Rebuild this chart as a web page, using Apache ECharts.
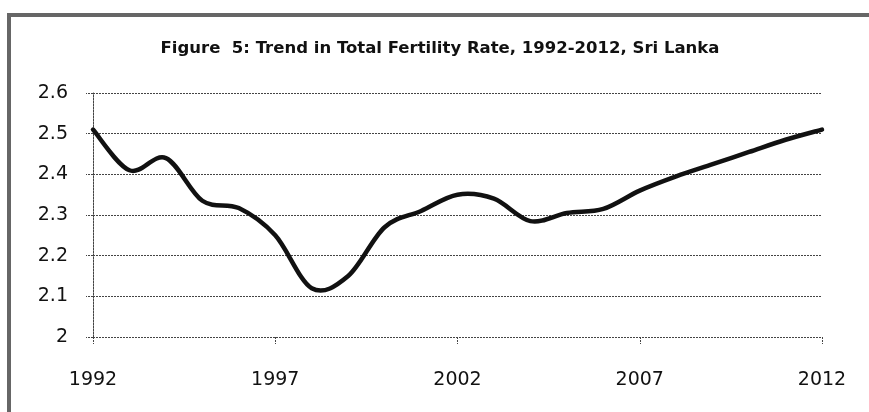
<!DOCTYPE html>
<html>
<head>
<meta charset="utf-8">
<script src="https://cdn.jsdelivr.net/npm/echarts@6/dist/echarts.min.js"></script>
<style>
  html, body { margin: 0; padding: 0; background: #fff; }
  #chart { width: 869px; height: 412px; }
</style>
</head>
<body>
<div id="chart"></div>
<script>
// Total fertility rate by year, Sri Lanka
const years = ['1992','1993','1994','1995','1996','1997','1998','1999','2000','2001','2002',
               '2003','2004','2005','2006','2007','2008','2009','2010','2011','2012'];
const tfr = [2.51, 2.41, 2.44, 2.335, 2.317, 2.25, 2.12, 2.15, 2.27, 2.31, 2.35,
             2.34, 2.285, 2.305, 2.315, 2.36, 2.395, 2.425, 2.455, 2.485, 2.51];
const titleText = 'Figure  5: Trend in Total Fertility Rate, 1992-2012, Sri Lanka';

const chart = echarts.init(document.getElementById('chart'), null, { renderer: 'canvas' });
const gridStyle = { color: '#444', width: 1, type: [2, 1] };
const labelFont = 'DejaVu Sans';

// Smoothed trend line: a Catmull-Rom spline through the yearly points,
// positioned with the chart's own axes via api.coord.
function renderTrend(params, api) {
  if (params.dataIndex !== 0) return null;
  const p = tfr.map((v, i) => api.coord([i, v]));
  const n = p.length;
  let d = 'M' + p[0][0] + ',' + p[0][1];
  for (let i = 0; i < n - 1; i++) {
    const p0 = p[Math.max(i - 1, 0)];
    const p1 = p[i];
    const p2 = p[i + 1];
    const p3 = p[Math.min(i + 2, n - 1)];
    const c1x = p1[0] + (p2[0] - p0[0]) / 6;
    const c1y = p1[1] + (p2[1] - p0[1]) / 6;
    const c2x = p2[0] - (p3[0] - p1[0]) / 6;
    const c2y = p2[1] - (p3[1] - p1[1]) / 6;
    d += ' C' + c1x + ',' + c1y + ' ' + c2x + ',' + c2y + ' ' + p2[0] + ',' + p2[1];
  }
  return {
    type: 'path',
    shape: { pathData: d },
    style: { fill: 'none', stroke: '#111', lineWidth: 4.5, lineJoin: 'round', lineCap: 'round' }
  };
}

chart.setOption({
  backgroundColor: '#fff',
  animation: false,
  title: {
    text: titleText,
    left: 435, top: 35,
    textAlign: 'center',
    textStyle: { fontFamily: 'DejaVu Sans', fontWeight: 'bold', fontSize: 16.5, color: '#111' }
  },
  grid: { left: 93, right: 47, top: 93, bottom: 75 },
  xAxis: {
    type: 'category',
    data: years,
    boundaryGap: false,
    axisLine: { show: false },
    axisTick: { show: true, interval: 4, length: 7, lineStyle: gridStyle },
    axisLabel: { interval: 4, margin: 34, fontFamily: labelFont, fontSize: 19, color: '#111' },
    splitLine: { show: false }
  },
  yAxis: {
    type: 'value',
    min: 2, max: 2.6, interval: 0.1,
    axisLine: { show: true, lineStyle: gridStyle },
    axisTick: { show: true, length: 7, lineStyle: gridStyle },
    axisLabel: {
      margin: 25, fontFamily: labelFont, fontSize: 19, color: '#111',
      formatter: v => String(Math.round(v * 10) / 10)
    },
    splitLine: { show: true, lineStyle: gridStyle }
  },
  series: [{
    type: 'custom',
    coordinateSystem: 'cartesian2d',
    data: tfr.map((v, i) => [i, v]),
    encode: { x: 0, y: 1 },
    renderItem: renderTrend
  }],
  graphic: [
    // frame edges around the figure
    { type: 'rect', shape: { x: 7, y: 13, width: 862, height: 4 }, style: { fill: '#666' } },
    { type: 'rect', shape: { x: 7, y: 13, width: 4, height: 399 }, style: { fill: '#666' } }
  ]
});
</script>
</body>
</html>
